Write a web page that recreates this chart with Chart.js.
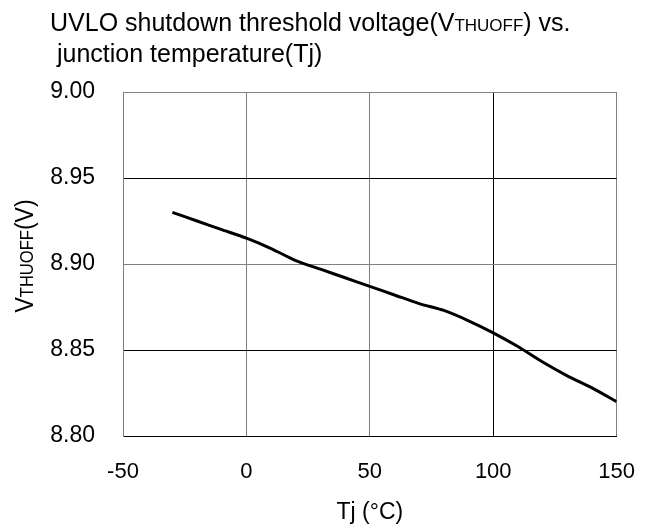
<!DOCTYPE html>
<html>
<head>
<meta charset="utf-8">
<script src="https://cdn.jsdelivr.net/npm/chart.js@4/dist/chart.umd.min.js"></script>
<style>
  html, body { margin: 0; padding: 0; background: #fff; }
  #wrap { width: 658px; height: 528px; position: relative; }
</style>
</head>
<body>
<div id="wrap"><canvas id="chart-uvlo"></canvas></div>
<script>
/* Data */
const tempC    = [-30, -20, -10, 0, 10, 20, 30, 40, 50, 60, 70, 80, 90, 100, 110, 120, 130, 140, 150];
const vthuoff  = [8.930, 8.925, 8.920, 8.915, 8.909, 8.902, 8.897, 8.892, 8.887, 8.882,
                  8.877, 8.873, 8.867, 8.860, 8.852, 8.843, 8.835, 8.828, 8.820];
const xTicks   = [-50, 0, 50, 100, 150];
const yTicks   = [8.80, 8.85, 8.90, 8.95, 9.00];

const FONT = "'Liberation Sans', Arial, sans-serif";

/* Draw text made of runs with different sizes (small subscript-like letters) */
function drawRuns(ctx, runs, x, y) {
  let cx = x;
  runs.forEach(function(r) {
    ctx.font = r[1] + 'px ' + FONT;
    ctx.fillText(r[0], cx, y);
    cx += ctx.measureText(r[0]).width;
  });
}
function runsWidth(ctx, runs) {
  let w = 0;
  runs.forEach(function(r) { ctx.font = r[1] + 'px ' + FONT; w += ctx.measureText(r[0]).width; });
  return w;
}

const labelsPlugin = {
  id: 'labels',
  afterDraw(chart) {
    const ctx = chart.ctx;
    const a = chart.chartArea;
    ctx.save();
    ctx.fillStyle = '#000';
    ctx.textBaseline = 'alphabetic';
    ctx.textAlign = 'left';
    // title, two lines
    drawRuns(ctx, [['UVLO shutdown threshold voltage(V', 25], ['THUOFF', 17], [') vs.', 25]], 50, 31);
    drawRuns(ctx, [[' junction temperature(Tj)', 25]], 50, 62);
    // x axis title
    ctx.font = '23px ' + FONT;
    ctx.textAlign = 'center';
    ctx.fillText('Tj (°C)', (a.left + a.right) / 2, 519);
    ctx.restore();

    // y axis title, rotated and slightly condensed
    ctx.save();
    ctx.fillStyle = '#000';
    const yRuns = [['V', 25], ['THUOFF', 18], ['(V)', 25]];
    ctx.translate(33, 256);
    ctx.rotate(-Math.PI / 2);
    ctx.scale(0.92, 1);
    drawRuns(ctx, yRuns, -runsWidth(ctx, yRuns) / 2, 0);
    ctx.restore();
  }
};

new Chart(document.getElementById('chart-uvlo'), {
  type: 'line',
  data: {
    datasets: [{
      data: tempC.map((t, i) => ({ x: t, y: vthuoff[i] })),
      borderColor: '#000',
      borderWidth: 3,
      pointRadius: 0,
      tension: 0.25,
      fill: false
    }]
  },
  options: {
    responsive: true,
    maintainAspectRatio: false,
    animation: false,
    layout: { padding: { left: 0, right: 38, top: 92, bottom: 0 } },
    plugins: { legend: { display: false }, tooltip: { enabled: false }, title: { display: false } },
    scales: {
      x: {
        type: 'linear', min: -50, max: 150,
        afterBuildTicks: s => { s.ticks = xTicks.map(v => ({ value: v })); },
        afterFit: s => { s.height = 92; },
        grid: {
          drawTicks: false,
          color: c => (c.tick && c.tick.value === 100) ? '#000' : '#808080',
          lineWidth: 1
        },
        border: { display: true, color: '#000', width: 1 },
        ticks: { padding: 23, color: '#000', font: { family: FONT, size: 22 } }
      },
      y: {
        min: 8.80, max: 9.00,
        afterBuildTicks: s => { s.ticks = yTicks.map(v => ({ value: v })); },
        afterFit: s => { s.width = 123; },
        grid: {
          drawTicks: false,
          color: c => (c.tick && (c.tick.value === 8.95 || c.tick.value === 8.85)) ? '#000' : '#808080',
          lineWidth: 1
        },
        border: { display: true, color: '#808080', width: 1 },
        ticks: { padding: 28, color: '#000', font: { family: FONT, size: 23 }, callback: v => v.toFixed(2) }
      }
    }
  },
  plugins: [labelsPlugin]
});
</script>
</body>
</html>
